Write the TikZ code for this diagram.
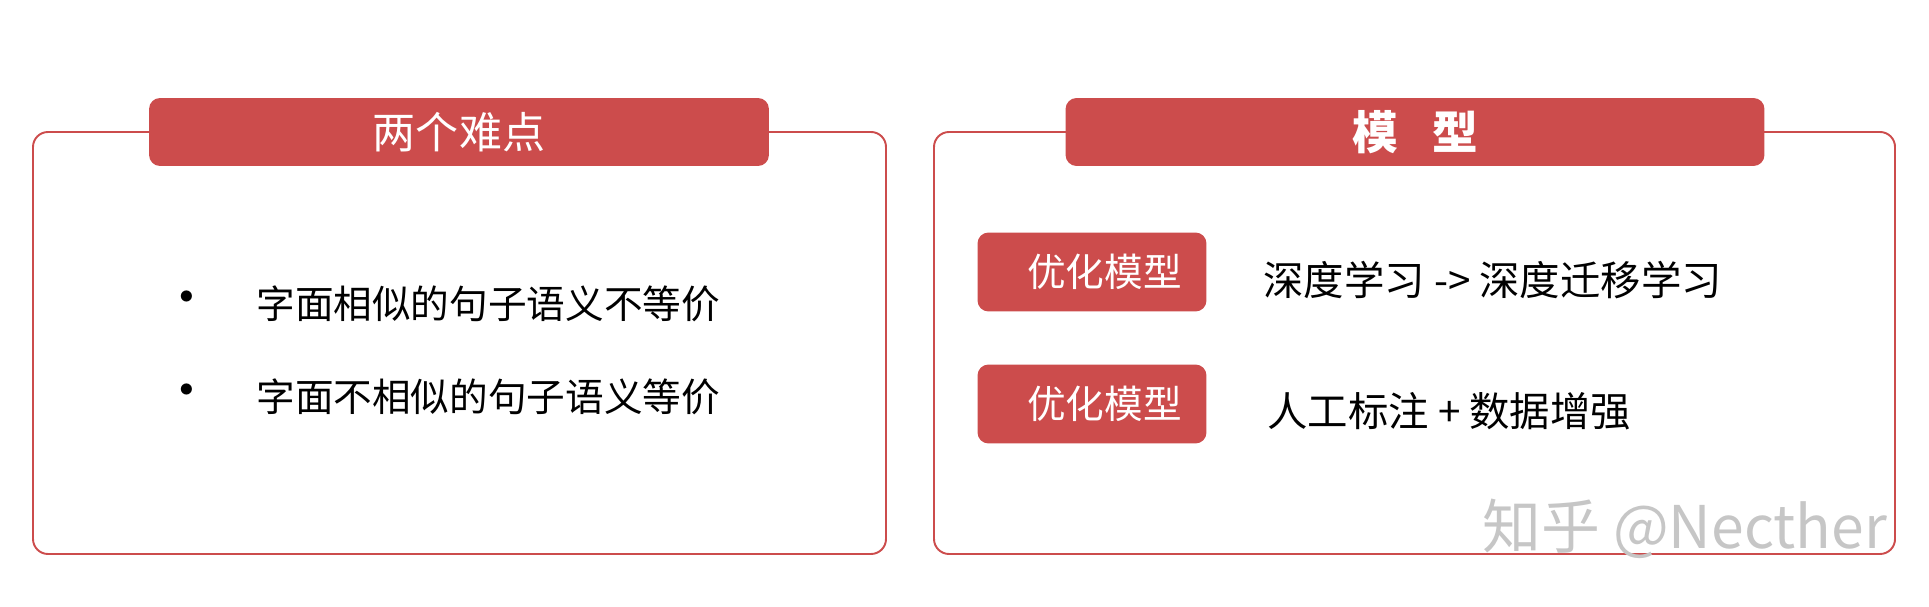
\documentclass[tikz,border=0pt]{standalone}
\usepackage{fontspec}
\setmainfont{Noto Sans CJK SC}
\definecolor{hdred}{RGB}{204,76,76}
\begin{document}
\begin{tikzpicture}[x=0.02cm,y=-0.02cm,
  panel/.style={draw=hdred,line width=1.1pt,rounded corners=0.3cm},
  header/.style={fill=hdred,rounded corners=0.22cm,text=white,inner sep=0pt,minimum height=1.36cm,font=\fontsize{24.5}{28}\selectfont},
  tagbox/.style={fill=hdred,rounded corners=0.22cm,text=white,inner sep=0pt,minimum width=4.58cm,minimum height=1.58cm,font=\fontsize{22}{26}\selectfont},
  item/.style={anchor=west,inner sep=0pt,font=\fontsize{22}{28}\selectfont}]
  \useasboundingbox (0,0) rectangle (1929,607);
  % two panels
  \draw[panel] (33,132) rectangle (886,554);
  \draw[panel] (934,132) rectangle (1895,554);
  \node[header,minimum width=12.4cm] (hl) at (459,132) {两个难点};
  \node[header,minimum width=13.98cm,font=\fontsize{26}{30}\selectfont] (hr) at (1415,132) {\bfseries 模\hspace{0.75em}型};
  % left: bullets
  \node[item,anchor=center,font=\fontsize{30}{30}\selectfont] (d1) at (187,304) {•};
  \node[item] (t1) at (256,304) {字面相似的句子语义不等价};
  \node[item,anchor=center,font=\fontsize{30}{30}\selectfont] (d2) at (187,397) {•};
  \node[item] (t2) at (256,397) {字面不相似的句子语义等价};
  % right: tags
  \node[tagbox] (g1) at (1092,272) {\hspace{0.5cm}优化模型};
  \node[tagbox] (g2) at (1092,404) {\hspace{0.5cm}优化模型};
  \node[item,font=\fontsize{23}{28}\selectfont] (s1) at (1263,280) {深度学习 -> 深度迁移学习};
  \node[item,font=\fontsize{23}{28}\selectfont] (s2) at (1267,411) {人工标注 + 数据增强};
  \node[anchor=west,inner sep=0pt,text=gray!45,font=\fontsize{33.5}{38}\selectfont] (wm) at (1482,529) {知乎 @Necther};
\end{tikzpicture}
\end{document}
